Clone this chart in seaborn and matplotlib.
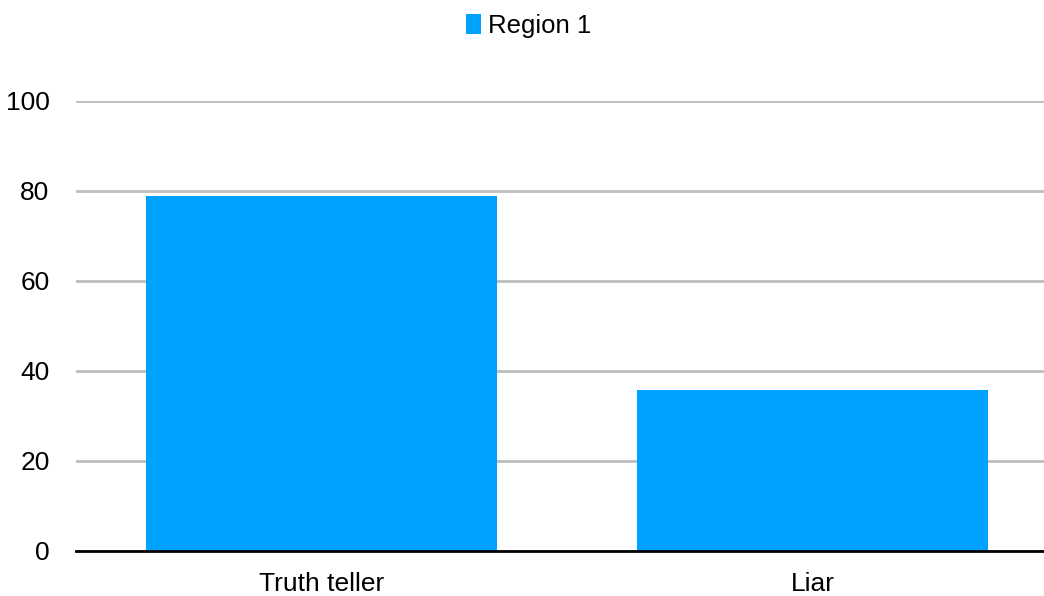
import numpy as np
import matplotlib
matplotlib.use('Agg')
import matplotlib.pyplot as plt
import pandas as pd
import seaborn as sns

# datos del grafico
categories = ['Truth teller', 'Liar']
values = [79.0, 35.7]
series_name = 'Region 1'

sns.set_style('white')
plt.rcParams['font.family'] = ['Liberation Sans', 'DejaVu Sans']
plt.rcParams['text.color'] = 'black'

df = pd.DataFrame({'cat': categories, 'val': values, 'serie': series_name})

fig = plt.figure(figsize=(10.44, 5.96), dpi=100)
# el area del grafico se sale un poco por la derecha
ax = fig.add_axes([76/1044, 45/596, 982/1044, 450/596])

sns.barplot(data=df, x='cat', y='val', hue='serie', palette=['#00A2FF'],
            width=0.713, saturation=1, linewidth=0, ax=ax, zorder=3)

ax.set_ylim(0, 100)
ax.set_yticks([0, 20, 40, 60, 80, 100])
ax.yaxis.grid(True, color='#bdbdbd', linewidth=2, zorder=0)
ax.set_axisbelow(True)
ax.set_xlabel('')
ax.set_ylabel('')
for s in ['top', 'right', 'left']:
    ax.spines[s].set_visible(False)
ax.spines['bottom'].set_color('black')
ax.spines['bottom'].set_linewidth(2)
ax.spines['bottom'].set_zorder(5)
ax.tick_params(axis='both', length=0, labelsize=19, colors='black')
ax.tick_params(axis='y', pad=19)
ax.tick_params(axis='x', pad=15)

# leyenda arriba, en coordenadas de la figura
leg = ax.legend(loc='center', bbox_to_anchor=(529/1044, 1 - 26/596),
                bbox_transform=fig.transFigure, ncol=1, frameon=False,
                fontsize=18.5, handlelength=0.55, handleheight=0.85, handletextpad=0.3,
                borderaxespad=0)
for t in leg.get_texts():
    t.set_color('black')

fig.savefig('out.png', dpi=100)
